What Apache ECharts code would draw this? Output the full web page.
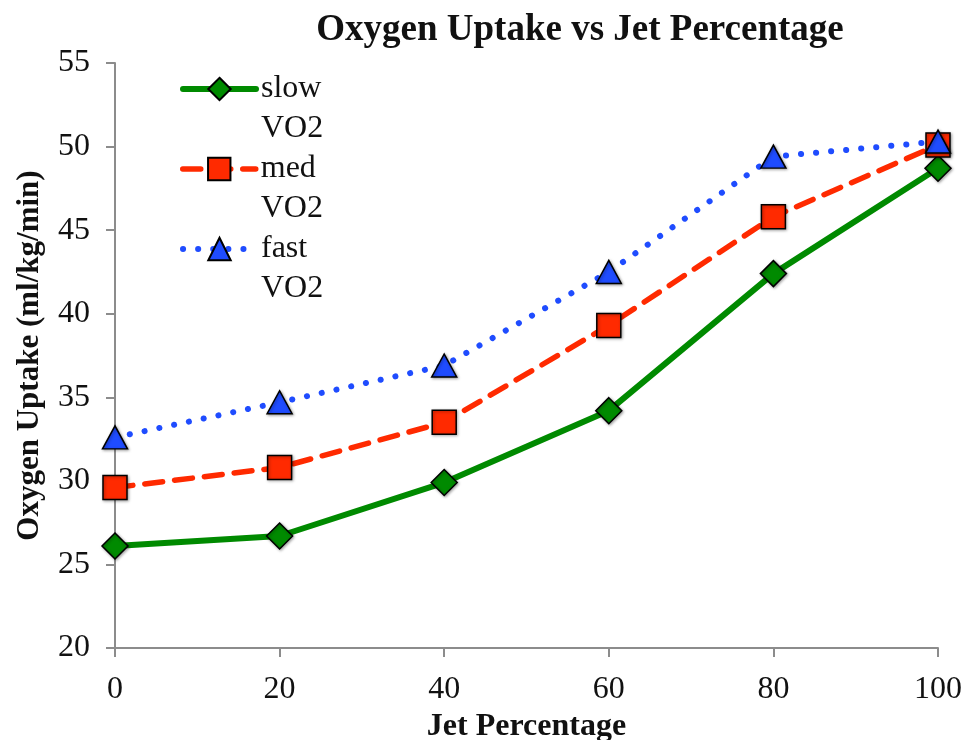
<!DOCTYPE html>
<html>
<head>
<meta charset="utf-8">
<script src="https://cdn.jsdelivr.net/npm/echarts@6/dist/echarts.min.js"></script>
<style>
  html, body { margin: 0; padding: 0; background: #fff; }
  #chart { width: 965px; height: 740px; }
</style>
</head>
<body>
<div id="chart"></div>
<script>
// jet percentage on x, oxygen uptake in ml/kg/min on y
var jetPct = [0, 20, 40, 60, 80, 100];
var slowVO2 = [26.1, 26.7, 29.9, 34.2, 42.4, 48.7];
var medVO2 = [29.6, 30.8, 33.5, 39.3, 45.8, 50.1];
var fastVO2 = [32.6, 34.7, 36.9, 42.5, 49.4, 50.3];
var seriesNames = ['slow\nVO2', 'med\nVO2', 'fast\nVO2'];

var FONT = '"Liberation Serif", "DejaVu Serif", serif';

var lineColors = ['#008a00', '#ff2a00', '#1f4cff'];
var lineWidths = [6, 5.5, 6];
var lineTypes = ['solid', [18, 12], [0.1, 15]];

function pairs(vals) {
    var out = [];
    for (var i = 0; i < jetPct.length; i++) {
        out.push([jetPct[i], vals[i]]);
    }
    return out;
}

// one legend per series so the icon sits on the first text line
function legendAt(idx, top) {
    return {
        data: [seriesNames[idx]],
        left: 175,
        top: top,
        orient: 'vertical',
        itemWidth: 73,
        itemHeight: 28,
        itemGap: 0,
        formatter: function (name) {
            return ' \n' + name;
        },
        lineStyle: {
            color: lineColors[idx],
            width: lineWidths[idx],
            type: lineTypes[idx],
            cap: 'round'
        },
        textStyle: {
            fontFamily: FONT,
            fontSize: 32,
            color: '#111',
            lineHeight: 40
        }
    };
}

var chart = echarts.init(document.getElementById('chart'));

chart.setOption({
    backgroundColor: '#fff',
    animation: false,
    title: {
        text: 'Oxygen Uptake vs Jet Percentage',
        left: 575,
        textAlign: 'center',
        top: 7,
        textStyle: {
            fontFamily: FONT,
            fontSize: 37,
            fontWeight: 'bold',
            color: '#111'
        }
    },
    legend: [
        legendAt(0, 24),
        legendAt(1, 104),
        legendAt(2, 184)
    ],
    grid: {
        left: 115,
        right: 27,
        top: 63,
        bottom: 92,
        containLabel: false,
        outerBoundsMode: 'none'
    },
    xAxis: {
        type: 'value',
        min: 0,
        max: 100,
        interval: 20,
        name: 'Jet Percentage',
        nameLocation: 'middle',
        nameGap: 53,
        nameTextStyle: {
            fontFamily: FONT,
            fontSize: 32,
            fontWeight: 'bold',
            color: '#111'
        },
        axisLine: { show: true, lineStyle: { color: '#8c8c8c', width: 2 } },
        axisTick: { show: true, length: 9, lineStyle: { color: '#8c8c8c', width: 2 } },
        axisLabel: {
            fontFamily: FONT,
            fontSize: 32,
            color: '#111',
            margin: 26
        },
        splitLine: { show: false }
    },
    yAxis: {
        type: 'value',
        min: 20,
        max: 55,
        interval: 5,
        name: 'Oxygen Uptake (ml/kg/min)',
        nameLocation: 'middle',
        nameGap: 70,
        nameTextStyle: {
            fontFamily: FONT,
            fontSize: 31,
            fontWeight: 'bold',
            color: '#111'
        },
        axisLine: { show: true, lineStyle: { color: '#8c8c8c', width: 2 } },
        axisTick: { show: true, length: 9, lineStyle: { color: '#8c8c8c', width: 2 } },
        axisLabel: {
            fontFamily: FONT,
            fontSize: 32,
            color: '#111',
            margin: 25
        },
        splitLine: { show: false }
    },
    series: [
        {
            name: seriesNames[0],
            type: 'line',
            data: pairs(slowVO2),
            symbol: 'diamond',
            symbolSize: [26, 26],
            itemStyle: {
                color: '#008a00',
                borderColor: '#000',
                borderWidth: 1.5,
                shadowBlur: 3,
                shadowColor: 'rgba(0,0,0,0.35)',
                shadowOffsetX: 1,
                shadowOffsetY: 1
            },
            lineStyle: { color: lineColors[0], width: lineWidths[0], type: lineTypes[0], cap: 'round' },
            z: 3
        },
        {
            name: seriesNames[1],
            type: 'line',
            data: pairs(medVO2),
            symbol: 'rect',
            symbolSize: [24, 24],
            itemStyle: {
                color: '#ff2a00',
                borderColor: '#000',
                borderWidth: 1.5,
                shadowBlur: 3,
                shadowColor: 'rgba(0,0,0,0.35)',
                shadowOffsetX: 1,
                shadowOffsetY: 1
            },
            lineStyle: { color: lineColors[1], width: lineWidths[1], type: lineTypes[1], cap: 'round' },
            z: 4
        },
        {
            name: seriesNames[2],
            type: 'line',
            data: pairs(fastVO2),
            symbol: 'triangle',
            symbolSize: [25, 23],
            itemStyle: {
                color: '#1f4cff',
                borderColor: '#000',
                borderWidth: 1.5,
                shadowBlur: 3,
                shadowColor: 'rgba(0,0,0,0.35)',
                shadowOffsetX: 1,
                shadowOffsetY: 1
            },
            lineStyle: { color: lineColors[2], width: lineWidths[2], type: lineTypes[2], cap: 'round' },
            z: 5
        }
    ]
});

window.onresize = function () {
    chart.resize();
};
</script>
</body>
</html>
